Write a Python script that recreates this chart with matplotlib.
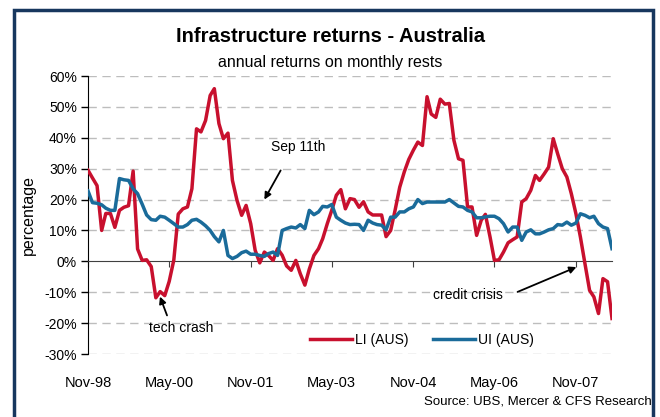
import matplotlib
matplotlib.use("Agg")
import matplotlib.pyplot as plt
import matplotlib.patches as patches
import pandas as pd

plt.rcParams['font.family'] = ['Liberation Sans', 'DejaVu Sans']

start_month = "1998-11-01"

# LI (AUS) annual returns, % - monthly from Nov-98
li_aus = [29.5, 27, 24.5, 10, 15.5, 15.5, 11, 16.5, 17.5, 18,
          29.2, 4, 0.3, 0.5, -1.7, -11.8, -9.8, -11.1, -6.5, 0.4,
          15.3, 17, 17.6, 23.5, 42.9, 41.9, 45.6, 53.7, 55.9, 44.6,
          39.7, 41.5, 26.2, 19.7, 14.9, 18.1, 12.2, 3.6, -0.5, 3,
          1.9, 0.3, 4.1, 2, -1.5, -2.9, 0.3, -4, -7.7, -2.5,
          1.9, 4.1, 7.3, 12.2, 16.5, 21.4, 23.2, 17, 20.3, 20,
          17.5, 19.3, 16, 15, 15, 15, 8, 10, 16.6, 24,
          29, 33, 36, 38.6, 37.5, 53.3, 47.7, 46.6, 52.5, 50.9,
          51.1, 39.2, 33.2, 32.7, 17.6, 17.6, 8.4, 13.3, 15.2, 8,
          0.3, 0.5, 3, 6, 7, 7.9, 19.2, 20.3, 23, 27.8,
          26.2, 28.3, 30.5, 39.7, 34.8, 30, 27.3, 21.9, 15.4, 7.9,
          -0.8, -9.4, -11.5, -16.9, -5.6, -6.6, -18.5]

# UI (AUS) annual returns, % - monthly from Nov-98
ui_aus = [22.8, 19, 18.8, 18.3, 17.2, 16.5, 16.5, 26.8, 26.4, 26.2,
          23.5, 21.9, 18.5, 15, 13.5, 13.3, 14.6, 14.3, 13.3, 12.2,
          11.1, 11.1, 11.9, 13.3, 13.6, 12.7, 11.5, 10, 8, 6.3,
          10, 1.9, 0.9, 1.6, 2.8, 3.3, 2.3, 2.3, 1.9, 1.6,
          2.5, 3, 1.9, 10, 10.6, 11.1, 10.8, 11.9, 10.6, 16.5,
          15.1, 16, 17.8, 17.6, 18.4, 14.3, 13.3, 12.4, 11.9, 12,
          11.9, 10, 13.3, 12.4, 11.9, 11.7, 10.2, 14.3, 14.3, 16,
          16, 17, 17.6, 20, 18.7, 19.2, 19.2, 19.2, 19.2, 19.2,
          20, 18.9, 17.8, 17.6, 16.5, 16, 14.1, 14.1, 14.4, 14.6,
          14.6, 13.8, 12.2, 9.5, 11.1, 11.1, 6.8, 9.5, 10.2, 8.9,
          8.9, 9.5, 10.2, 10.6, 11.9, 11.7, 12.7, 11.7, 12.4, 15.4,
          14.9, 14.1, 14.6, 12.2, 11.1, 10.6, 4.1]

tick_labels = ["Nov-98", "May-00", "Nov-01", "May-03", "Nov-04", "May-06", "Nov-07"]
y_ticks = [-30, -20, -10, 0, 10, 20, 30, 40, 50, 60]

dates = pd.date_range(start_month, periods=len(li_aus), freq="MS")
tick_dates = pd.date_range(start_month, periods=len(tick_labels), freq="18MS")

red = "#c8102e"
blue = "#1a6b9a"

fig = plt.figure(figsize=(6.6, 4.17), dpi=100)
ax = fig.add_axes([88/660, 1-354/417, 524/660, 278/417])

# dashed gridlines (0% is the axis line)
for y in y_ticks:
    if y != 0:
        ax.axhline(y, color="#bdbdbd", lw=1, ls=(0, (6, 4)), zorder=0)

ax.plot(dates, li_aus, color=red, lw=2.5, label="LI (AUS)", zorder=3)
ax.plot(dates, ui_aus, color=blue, lw=2.5, label="UI (AUS)", zorder=3)

ax.set_xlim(dates[0], dates[-1])
ax.set_ylim(-30, 60)
ax.set_yticks(y_ticks)
ax.set_yticklabels([f"{y}%" for y in y_ticks], fontsize=10)
ax.tick_params(axis="y", direction="out", length=5, width=1, pad=3)

ax.spines["top"].set_visible(False)
ax.spines["right"].set_visible(False)
ax.spines["bottom"].set_position(("data", 0))
ax.spines["bottom"].set_color("#404040")
ax.spines["left"].set_color("black")
ax.set_xticks(tick_dates)
ax.tick_params(axis="x", direction="out", length=4, labelbottom=False, color="#404040")

# category labels sit below the plot, not on the zero line
sec = ax.secondary_xaxis("bottom")
sec.set_xticks(tick_dates)
sec.set_xticklabels(tick_labels, fontsize=10.5)
sec.tick_params(length=0, pad=16)
sec.spines["bottom"].set_visible(False)

ax.set_ylabel("percentage", fontsize=11.5, labelpad=6)

fig.text(0.5, 1-36/417, "Infrastructure returns - Australia", ha="center", va="center",
         fontsize=14.5, fontweight="bold")
fig.text(0.5, 1-62/417, "annual returns on monthly rests", ha="center", va="center",
         fontsize=11.5)
fig.text(652/660, 1-402/417, "Source: UBS, Mercer & CFS Research", ha="right", va="center",
         fontsize=9.5)

arrow = dict(arrowstyle="-|>", color="black", lw=1.3, mutation_scale=10)
fig.text(298/660, 1-147/417, "Sep 11th", ha="center", va="center", fontsize=10)
ax.annotate("", xy=(263/660, 1-202/417), xycoords="figure fraction",
            xytext=(282/660, 1-168/417), textcoords="figure fraction", arrowprops=arrow)
fig.text(181/660, 1-328/417, "tech crash", ha="center", va="center", fontsize=10)
ax.annotate("", xy=(159/660, 1-294/417), xycoords="figure fraction",
            xytext=(168/660, 1-318/417), textcoords="figure fraction", arrowprops=arrow)
fig.text(468/660, 1-295/417, "credit crisis", ha="center", va="center", fontsize=10)
ax.annotate("", xy=(579/660, 1-266/417), xycoords="figure fraction",
            xytext=(515/660, 1-293/417), textcoords="figure fraction", arrowprops=arrow)

ax.legend(loc="center", bbox_to_anchor=(0.637, 0.05), ncol=2, frameon=False,
          fontsize=10, handlelength=3, handletextpad=0.2, columnspacing=1.8)

border = patches.Rectangle((14/660, -0.05), (653-14)/660, 1.05-10/417, transform=fig.transFigure,
                           fill=False, edgecolor="#17375e", lw=2.5, zorder=10)
fig.patches.append(border)

fig.savefig("out.png", dpi=100)
